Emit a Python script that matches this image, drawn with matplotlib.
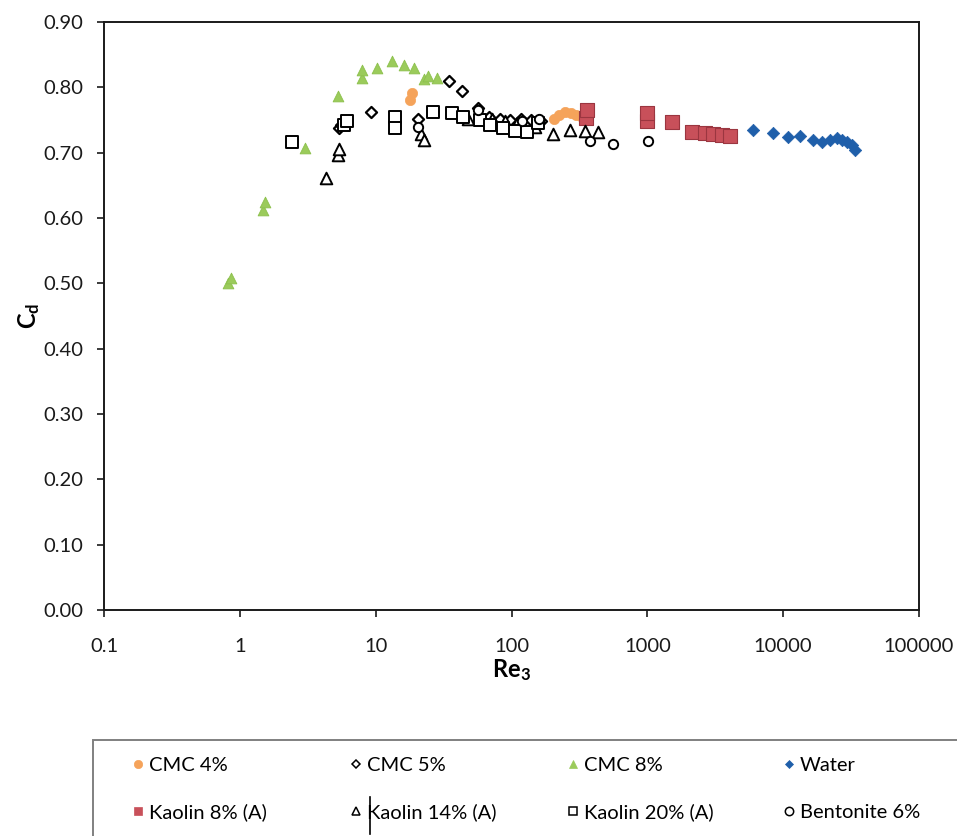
import matplotlib
matplotlib.use("Agg")
import matplotlib.pyplot as plt
from matplotlib.lines import Line2D
from matplotlib.patches import Rectangle
from matplotlib.ticker import FixedLocator, FixedFormatter

plt.rcParams['font.family'] = ['Lato', 'DejaVu Sans']
plt.rcParams['mathtext.fontset'] = 'custom'
plt.rcParams['mathtext.bf'] = 'Lato:bold'
plt.rcParams['mathtext.rm'] = 'Lato'

# =========================
# DATA  (Re3 vs drag coefficient Cd)
# =========================
cmc4_re = [18.0, 18.4, 205, 225, 248, 272, 300, 330, 365]
cmc4_cd = [0.780, 0.792, 0.752, 0.757, 0.762, 0.761, 0.758, 0.755, 0.752]

cmc5_re = [5.4, 5.6, 9.2, 20.5, 34.9, 43.5, 57, 68, 82, 98, 118, 140, 165]
cmc5_cd = [0.738, 0.742, 0.763, 0.752, 0.809, 0.795, 0.768, 0.755, 0.752, 0.750, 0.752, 0.750, 0.748]

cmc8_re = [0.82, 0.86, 1.48, 1.52, 3.0, 5.3, 7.9, 7.9, 10.2, 13.1, 16.2, 19.0, 22.5, 24.4, 28.5]
cmc8_cd = [0.500, 0.508, 0.612, 0.625, 0.707, 0.787, 0.815, 0.826, 0.829, 0.840, 0.834, 0.829, 0.813, 0.818, 0.815]

water_re = [6040, 8475, 10940, 13340, 16720, 19270, 22200, 24850, 27040, 29450, 32030, 33890]
water_cd = [0.735, 0.730, 0.724, 0.726, 0.719, 0.717, 0.719, 0.722, 0.720, 0.717, 0.712, 0.704]

kaolin8_re = [355, 360, 1000, 1000, 1510, 2120, 2670, 3060, 3560, 4080]
kaolin8_cd = [0.753, 0.766, 0.748, 0.760, 0.747, 0.732, 0.730, 0.728, 0.727, 0.726]

kaolin14_re = [4.3, 5.3, 5.4, 21.5, 22.5, 48, 58, 72, 90, 110, 150, 202, 270, 348, 434]
kaolin14_cd = [0.661, 0.697, 0.705, 0.728, 0.720, 0.752, 0.755, 0.752, 0.748, 0.745, 0.740, 0.728, 0.735, 0.733, 0.732]

kaolin20_re = [2.41, 5.8, 6.2, 13.9, 13.9, 26.3, 36.3, 44, 59, 70, 87, 106, 130, 157]
kaolin20_cd = [0.717, 0.742, 0.748, 0.755, 0.737, 0.763, 0.761, 0.754, 0.750, 0.742, 0.737, 0.733, 0.732, 0.745]

bent6_re = [20.5, 57, 120, 160, 380, 560, 1010]
bent6_cd = [0.740, 0.765, 0.748, 0.752, 0.718, 0.714, 0.718]

x_ticks = [0.1, 1, 10, 100, 1000, 10000, 100000]
x_labels = ["0.1", "1", "10", "100", "1000", "10000", "100000"]
y_ticks = [0.0, 0.1, 0.2, 0.3, 0.4, 0.5, 0.6, 0.7, 0.8, 0.9]

# marker styles per fluid: (marker, face, edge, size, edge width)
series = [
    ("CMC 4%", cmc4_re, cmc4_cd, 'o', '#f5a35a', '#f5a35a', 55, 0.5),
    ("CMC 5%", cmc5_re, cmc5_cd, 'D', 'white', 'black', 32, 1.6),
    ("CMC 8%", cmc8_re, cmc8_cd, '^', '#9bcb5b', '#8cc04c', 60, 0.6),
    ("Water", water_re, water_cd, 'D', '#1f5faa', '#1f5faa', 40, 0.5),
    ("Kaolin 8% (A)", kaolin8_re, kaolin8_cd, 's', '#c8505a', '#9b3640', 90, 0.8),
    ("Kaolin 14% (A)", kaolin14_re, kaolin14_cd, '^', 'white', 'black', 70, 1.4),
    ("Kaolin 20% (A)", kaolin20_re, kaolin20_cd, 's', 'white', 'black', 65, 1.4),
    ("Bentonite 6%", bent6_re, bent6_cd, 'o', 'white', 'black', 45, 1.4),
]

# =========================
# PLOT
# =========================
fig = plt.figure(figsize=(9.57, 8.36), dpi=100)
ax = fig.add_axes([104 / 957, 1 - 610 / 836, 815 / 957, 588 / 836])

for name, re, cd, mk, fc, ec, s, lw in series:
    ax.scatter(re, cd, marker=mk, s=s, facecolors=fc, edgecolors=ec,
               linewidths=lw, zorder=3, label=name)

ax.set_xscale('log')
ax.set_xlim(0.1, 100000)
ax.set_ylim(0.0, 0.9)
ax.xaxis.set_major_locator(FixedLocator(x_ticks))
ax.xaxis.set_major_formatter(FixedFormatter(x_labels))
ax.xaxis.set_minor_locator(FixedLocator([]))
ax.set_yticks(y_ticks)
ax.set_yticklabels([f"{v:.2f}" for v in y_ticks])

for sp in ax.spines.values():
    sp.set_linewidth(1.4)
    sp.set_color('#1a1a1a')
ax.tick_params(axis='both', direction='out', length=5, width=1.2,
               labelsize=14.5, colors='#1a1a1a')
ax.tick_params(axis='x', pad=15)
ax.tick_params(axis='y', pad=10)

ax.set_xlabel(r'$\mathbf{Re_3}$', fontsize=17, labelpad=2)
ax.set_ylabel(r'$\mathbf{C_d}$', fontsize=17, labelpad=1)

# =========================
# LEGEND  (boxed strip under the axes, 4 columns x 2 rows)
# =========================
fig.add_artist(Rectangle((93 / 957, -0.05), 1.0, 1 - 740 / 836 + 0.05,
                         transform=fig.transFigure, fill=False,
                         edgecolor='#808080', linewidth=1.4))

col_x = [133, 351, 568, 784]
row_y = [765, 812]
for i, (name, re, cd, mk, fc, ec, s, lw) in enumerate(series):
    h = Line2D([], [], linestyle='none', marker=mk, markersize=6 if mk != 'D' else 4.5,
               markerfacecolor=fc, markeredgecolor=ec if fc == 'white' else fc,
               markeredgewidth=1.1 if fc == 'white' else 0.5)
    fig.legend(handles=[h], labels=[name], loc='center left',
               bbox_to_anchor=(col_x[i % 4] / 957, 1 - row_y[i // 4] / 836),
               frameon=False, fontsize=14.5, borderpad=0, borderaxespad=0,
               handlelength=0.5, handletextpad=0.3)

fig.add_artist(Line2D([370 / 957, 370 / 957], [1 - 797 / 836, 1 - 834 / 836],
                      color='black', linewidth=1.2))

fig.savefig("out.png", dpi=100)
